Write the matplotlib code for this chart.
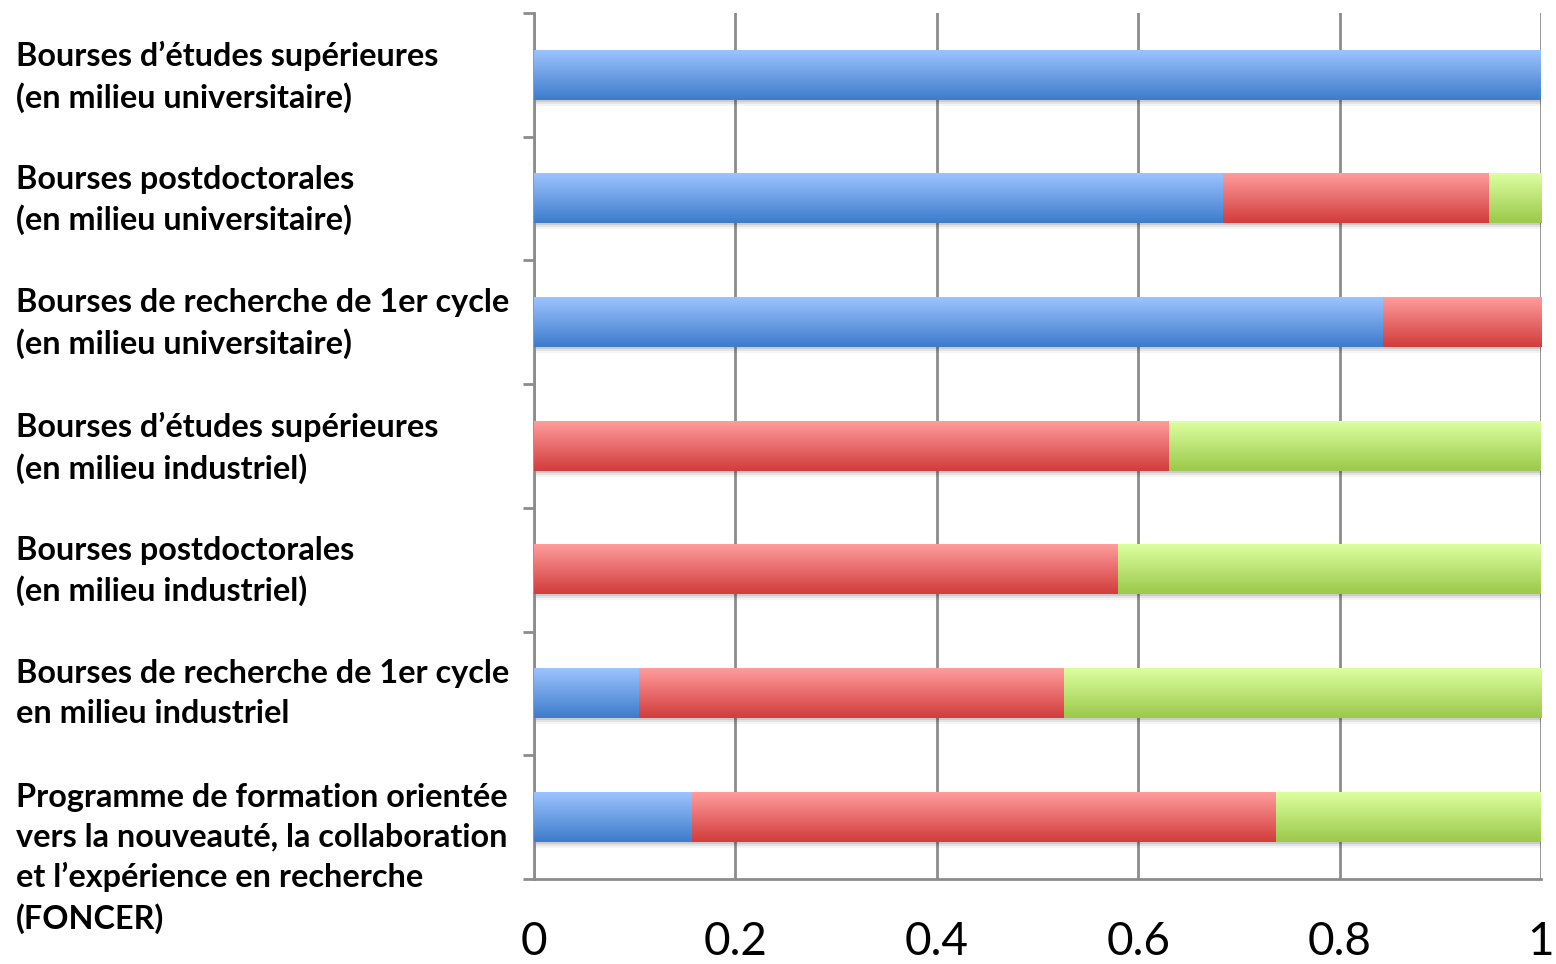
import numpy as np
import matplotlib
matplotlib.use('Agg')
import matplotlib.pyplot as plt
import matplotlib.transforms as mtransforms
from matplotlib.colors import LinearSegmentedColormap

# Data
categories = [
    'Bourses d’études supérieures\n(en milieu universitaire)',
    'Bourses postdoctorales\n(en milieu universitaire)',
    'Bourses de recherche de 1er cycle\n(en milieu universitaire)',
    'Bourses d’études supérieures\n(en milieu industriel)',
    'Bourses postdoctorales\n(en milieu industriel)',
    'Bourses de recherche de 1er cycle\nen milieu industriel',
    'Programme de formation orientée\nvers la nouveauté, la collaboration\net l’expérience en recherche\n(FONCER)',
]
blue = [1.0, 0.684, 0.843, 0.0, 0.0, 0.104, 0.157]
red = [0.0, 0.264, 0.157, 0.631, 0.580, 0.422, 0.580]
green = [0.0, 0.052, 0.0, 0.369, 0.420, 0.474, 0.263]
xticks = [0, 0.2, 0.4, 0.6, 0.8, 1]
xticklabels = ['0', '0.2', '0.4', '0.6', '0.8', '1']

# (top colour, bottom colour) for the gradient fill of each series
gradients = [('#9cc3ff', '#3d7ccb'), ('#ff9c9c', '#d23c3c'), ('#dcffa0', '#9bc94a')]

plt.rcParams['font.family'] = ['Lato', 'DejaVu Sans']

fig = plt.figure(figsize=(15.56, 9.64), dpi=100)
ax = fig.add_axes([534 / 1556, 1 - 879 / 964, 1007 / 1556, 866 / 964])

y = np.arange(len(categories))
h = 0.4
series = [blue, red, green]
lefts = np.zeros(len(categories))

# soft shadow under each full bar
totals = np.array(blue) + np.array(red) + np.array(green)
for k, a in enumerate([0.10, 0.07, 0.04]):
    off = mtransforms.offset_copy(ax.transData, fig=fig, x=2, y=-(2 + 2 * k), units='dots')
    ax.barh(y, totals, height=h, color='black', alpha=a, transform=off, zorder=2, linewidth=0)

for vals, (c_top, c_bot) in zip(series, gradients):
    bars = ax.barh(y, vals, left=lefts, height=h, color='none', linewidth=0, zorder=3)
    cmap = LinearSegmentedColormap.from_list('g', [c_top, c_bot])
    grad = np.linspace(0, 1, 64).reshape(-1, 1)
    for b in bars:
        if b.get_width() <= 0:
            continue
        x0, y0 = b.get_x(), b.get_y()
        ax.imshow(grad, cmap=cmap, aspect='auto', zorder=3,
                  extent=[x0, x0 + b.get_width(), y0 + b.get_height(), y0],
                  interpolation='bicubic')
    lefts = lefts + np.array(vals)

ax.set_xlim(0, 1)
ax.set_ylim(len(categories) - 0.5, -0.5)

ax.set_xticks(xticks)
ax.set_xticklabels(xticklabels)
ax.tick_params(axis='x', length=0, labelsize=33, pad=30)
ax.set_yticks(np.arange(-0.5, len(categories), 1))
ax.set_yticklabels([])
ax.tick_params(axis='y', direction='out', length=8, width=2, color='#8c8c8c')

ax.grid(axis='x', color='#8c8c8c', linewidth=2, zorder=1)
ax.set_axisbelow(True)
for s in ['top', 'right']:
    ax.spines[s].set_visible(False)
for s in ['left', 'bottom']:
    ax.spines[s].set_color('#8c8c8c')
    ax.spines[s].set_linewidth(2)

# category labels, left aligned at figure edge
trans = mtransforms.blended_transform_factory(fig.transFigure, ax.transData)
for yi, lab in zip(y, categories):
    ax.text(16 / 1556, yi - h / 2 - 0.075, lab, transform=trans, ha='left', va='top',
            fontsize=23.3, fontweight='bold', linespacing=1.43, clip_on=False)

fig.savefig('out.png', dpi=100)
